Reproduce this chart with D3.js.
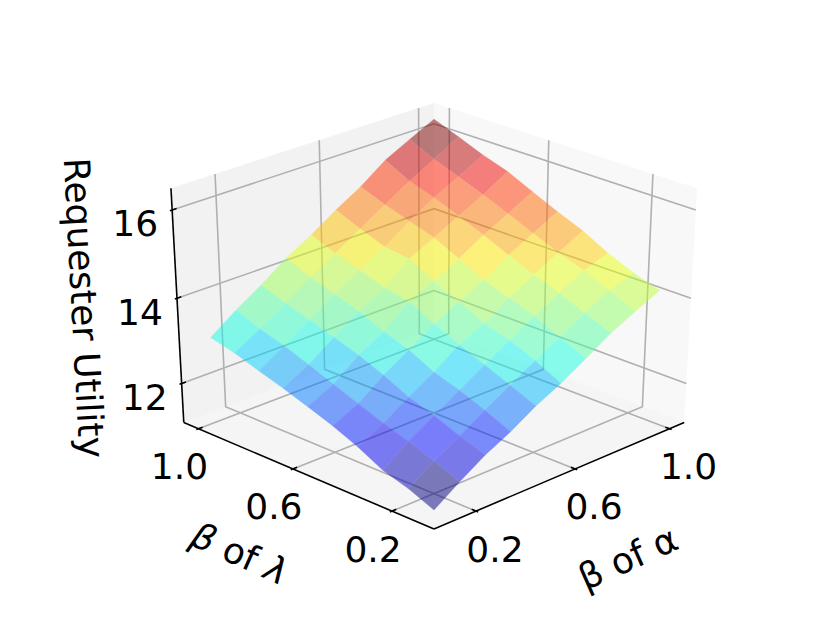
<!DOCTYPE html>
<html>
<head>
<meta charset="utf-8">
<script src="https://cdnjs.cloudflare.com/ajax/libs/d3/7.8.5/d3.min.js"></script>
<style>
html,body{margin:0;padding:0;background:#fff;}
svg{display:block;}
text{font-family:"DejaVu Sans",sans-serif;fill:#000;}
</style>
</head>
<body>
<svg id="chart" width="830" height="623"></svg>
<script>
// ---- data ----
const alphaBetas = [0.1,0.2,0.3,0.4,0.5,0.6,0.7,0.8,0.9,1.0];
const lambdaBetas = [0.1,0.2,0.3,0.4,0.5,0.6,0.7,0.8,0.9,1.0];
const row01 = [11.18,11.59,11.97,12.27,12.63,12.92,13.27,13.63,13.91,14.18];
const row02 = [11.43,11.82,12.17,12.53,12.88,13.22,13.53,13.87,14.18,14.37];
const row03 = [11.61,12.04,12.41,12.76,13.12,13.47,13.80,14.12,14.43,14.62];
const row04 = [11.92,12.23,12.60,12.95,13.36,13.63,14.01,14.33,14.63,14.93];
const row05 = [12.17,12.45,12.88,13.24,13.62,13.92,14.21,14.57,14.87,15.17];
const row06 = [12.38,12.67,13.12,13.44,13.92,14.19,14.49,14.83,15.12,15.43];
const row07 = [12.58,12.90,13.31,13.69,14.03,14.49,14.77,15.07,15.36,15.70];
const row08 = [12.76,13.11,13.50,13.88,14.23,14.56,14.95,15.29,15.58,15.89];
const row09 = [12.95,13.29,13.68,14.06,14.41,14.77,15.13,15.48,15.79,16.12];
const row10 = [13.09,13.51,13.88,14.30,14.63,15.01,15.35,15.77,16.06,16.34];
const utility = [row01,row02,row03,row04,row05,row06,row07,row08,row09,row10];
const xTicks = [0.2,0.6,1.0];
const yTicks = [0.2,0.6,1.0];
const zTicks = [12,14,16];
const xLabel = "β of α";
const zLabel = "Requester Utility";

// ---- scales: data -> unit box ----
const xS = d3.scaleLinear().domain([0.0363,1.0637]).range([0,1]);
const yS = d3.scaleLinear().domain([0.0363,1.0637]).range([0,1]);
const zS = d3.scaleLinear().domain([11.06,16.48]).range([0,1]);

// ---- camera (elev 30, azim -135, dist 10) ----
const n = [-0.61237,-0.61237,0.5], ru = [0.70711,-0.70711,0], rv=[0.35355,0.35355,0.86603];
const dot=(a,b)=>a[0]*b[0]+a[1]*b[1]+a[2]*b[2];
const kx=3627, ky=2704, cx=434, cy=308.3;
function proj(u,v,w){
  const p=[u-.5,v-.5,w-.5], d=10-dot(n,p);
  return [cx+kx*dot(ru,p)/d, cy-ky*dot(rv,p)/d];
}
const line=d3.line();
const svg=d3.select("#chart");

// panes
const panes=[
 {c:[[1,0,0],[1,1,0],[1,1,1],[1,0,1]],g:0.95},
 {c:[[0,1,0],[1,1,0],[1,1,1],[0,1,1]],g:0.90},
 {c:[[0,0,0],[1,0,0],[1,1,0],[0,1,0]],g:0.925}
];
svg.append("g").selectAll("path").data(panes).join("path")
 .attr("d",d=>line(d.c.map(q=>proj(...q)))+"Z")
 .attr("fill",d=>d3.rgb(d.g*255,d.g*255,d.g*255)).attr("fill-opacity",0.5);

// grid
const gridCol="#b0b0b0", gridW=1.6;
const grid=svg.append("g").attr("fill","none").attr("stroke",gridCol).attr("stroke-width",gridW);
xTicks.forEach(t=>{const u=xS(t);grid.append("path").attr("d",line([[u,0,0],[u,1,0],[u,1,1]].map(q=>proj(...q))));});
yTicks.forEach(t=>{const v=yS(t);grid.append("path").attr("d",line([[0,v,0],[1,v,0],[1,v,1]].map(q=>proj(...q))));});
zTicks.forEach(t=>{const w=zS(t);grid.append("path").attr("d",line([[0,1,w],[1,1,w],[1,0,w]].map(q=>proj(...q))));});

// surface: opaque cells in a half-transparent group, so neighbouring cells leave no seams
const cr=d3.scaleLinear().domain([0,.35,.66,.89,1]).range([0,0,1,1,.5]);
const cg=d3.scaleLinear().domain([0,.125,.375,.64,.91,1]).range([0,0,1,1,0,0]);
const cb=d3.scaleLinear().domain([0,.11,.34,.65,1]).range([.5,1,1,0,0]);
const cells=[];
for(let j=0;j<lambdaBetas.length-1;j++)for(let i=0;i<alphaBetas.length-1;i++){
  const c=[[i,j],[i+1,j],[i+1,j+1],[i,j+1]];
  cells.push({avg:d3.mean(c,q=>utility[q[1]][q[0]]),
    pts:c.map(q=>proj(xS(alphaBetas[q[0]]),yS(lambdaBetas[q[1]]),zS(utility[q[1]][q[0]]))),
    depth:i+j});
}
const colorS=d3.scaleLinear().domain(d3.extent(cells,d=>d.avg)).range([0,1]);
const cellColor=d=>{const t=colorS(d.avg);return d3.rgb(cr(t)*255,cg(t)*255,cb(t)*255);};
cells.sort((a,b)=>b.depth-a.depth);
svg.append("g").attr("opacity",0.5).selectAll("path").data(cells).join("path")
 .attr("d",d=>line(d.pts)+"Z")
 .attr("fill",cellColor).attr("stroke",cellColor).attr("stroke-width",0.5);

// axes
const ax=svg.append("g").attr("fill","none").attr("stroke","#000").attr("stroke-width",1.6);
ax.append("path").attr("d",line([[0,0,0],[1,0,0]].map(q=>proj(...q))));
ax.append("path").attr("d",line([[0,0,0],[0,1,0]].map(q=>proj(...q))));
ax.append("path").attr("d",line([[0,1,0],[0,1,1]].map(q=>proj(...q))));
const tOut=0.008,tIn=0.016,fs=36;
const labels=svg.append("g").attr("font-size",fs).attr("text-anchor","middle").attr("dominant-baseline","central");
const fmt=d3.format(".1f");
xTicks.forEach(t=>{const u=xS(t);
  ax.append("path").attr("d",line([proj(u,-tOut,0),proj(u,tIn,0)]));
  const p=proj(u,0,0);labels.append("text").attr("x",p[0]+19).attr("y",p[1]+38).text(fmt(t));});
yTicks.forEach(t=>{const v=yS(t);
  ax.append("path").attr("d",line([proj(-tOut,v,0),proj(tIn,v,0)]));
  const p=proj(0,v,0);labels.append("text").attr("x",p[0]-19).attr("y",p[1]+38).text(fmt(t));});
zTicks.forEach(t=>{const w=zS(t);
  ax.append("path").attr("d",line([proj(-tOut,1,w),proj(tIn,1,w)]));
  const p=proj(0,1,w);labels.append("text").attr("x",p[0]-37).attr("y",p[1]+14).text(d3.format("d")(t));});

// axis titles
const titles=svg.append("g").attr("font-size",fs).attr("text-anchor","middle").attr("dominant-baseline","central");
titles.append("text").attr("transform","translate(628,558) rotate(-24)").text(xLabel);
const yt=titles.append("text").attr("transform","translate(240,553) rotate(24)");
yt.append("tspan").attr("font-style","italic").text("β");
yt.append("tspan").text(" of ");
yt.append("tspan").attr("font-style","italic").text("λ");
titles.append("text").attr("transform","translate(84,308) rotate(87)").text(zLabel);
</script>
</body>
</html>
